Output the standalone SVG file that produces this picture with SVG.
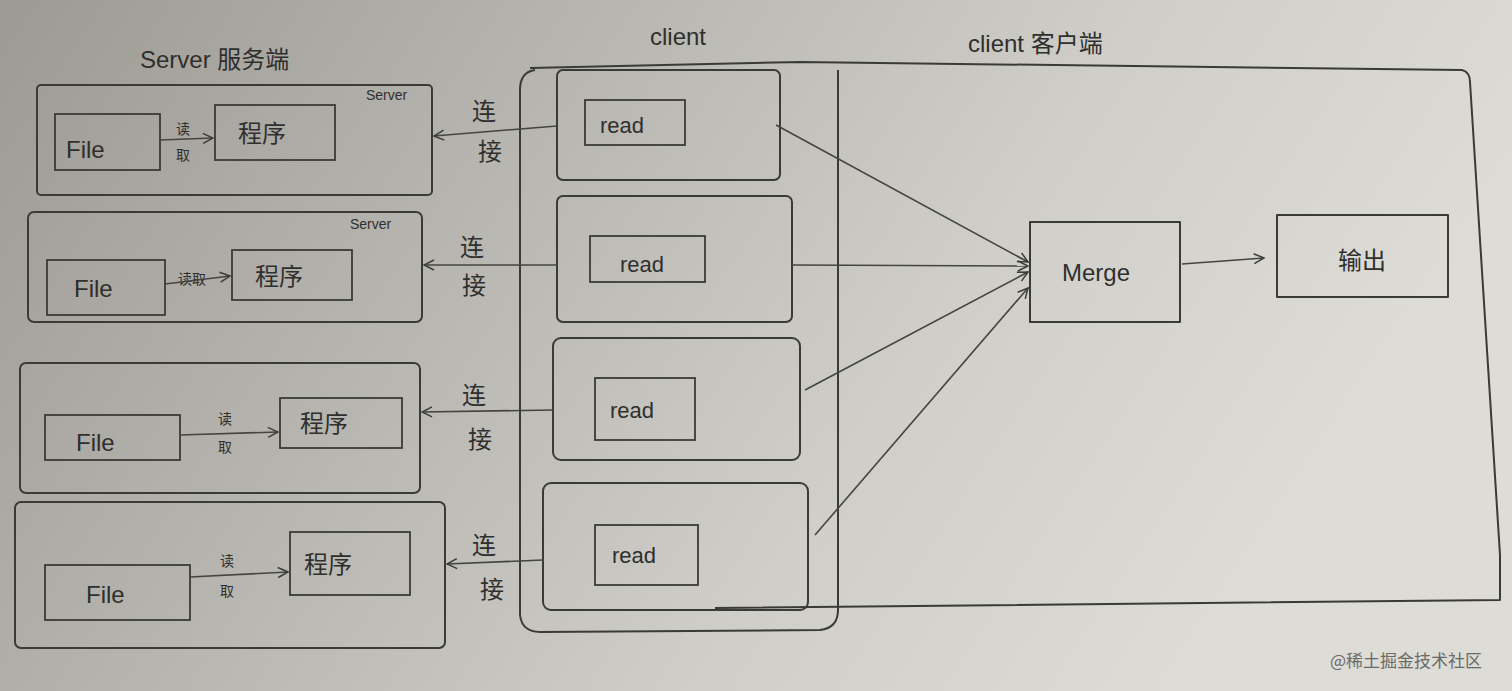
<svg xmlns="http://www.w3.org/2000/svg" width="1512" height="691" viewBox="0 0 1512 691">
<defs>
<linearGradient id="paper" x1="0" y1="0" x2="1" y2="0.3">
<stop offset="0" stop-color="#9d9a94"/>
<stop offset="0.35" stop-color="#b6b4ae"/>
<stop offset="0.7" stop-color="#cfcec9"/>
<stop offset="1" stop-color="#dddcd7"/>
</linearGradient>
<marker id="arr" viewBox="0 0 12 12" refX="11" refY="6" markerWidth="12" markerHeight="12" markerUnits="userSpaceOnUse" orient="auto">
<path d="M1,1 L11,6 L1,11" fill="none" stroke="#3c3c3a" stroke-width="1.5"/>
</marker>
</defs>
<style>
.box{fill:none;stroke:#3a3a38;stroke-width:2;stroke-linejoin:round}
.inner{fill:none;stroke:#3a3a38;stroke-width:1.8}
.ln{fill:none;stroke:#444442;stroke-width:1.6}
.t{font-family:"Liberation Sans","Noto Sans CJK SC",sans-serif;fill:#2f2f2d}
.h{font-size:24px}
.s{font-size:14px}
.m{font-size:22px}
.c{font-size:24px}
</style>
<rect width="1512" height="691" fill="url(#paper)"/>

<g id="titles">
<text class="t h" x="140" y="68">Server 服务端</text>
<text class="t h" x="650" y="45">client</text>
<text class="t h" x="968" y="52">client 客户端</text>
</g>

<g id="client-area">
<path class="box" d="M530,68 L800,62 L1462,70 Q1470,72 1470,82 L1500,555 L1500,600 L715,608"/>
<path class="box" d="M535,70 Q520,72 520,90 L520,615 Q522,632 540,632 L820,630 Q838,628 838,610 L838,70"/>
</g>

<g id="server1">
<rect class="box" x="37" y="85" width="395" height="110" rx="4"/>
<text class="t s" x="366" y="100">Server</text>
<rect class="inner" x="55" y="114" width="105" height="56"/>
<text class="t c" x="66" y="158">File</text>
<rect class="inner" x="215" y="105" width="120" height="55"/>
<text class="t c" x="238" y="142">程序</text>
<text class="t s" x="176" y="134">读</text>
<text class="t s" x="176" y="160">取</text>
</g>

<g id="server2">
<rect class="box" x="28" y="212" width="394" height="110" rx="6"/>
<text class="t s" x="350" y="229">Server</text>
<rect class="inner" x="47" y="260" width="118" height="55"/>
<text class="t c" x="74" y="297">File</text>
<rect class="inner" x="232" y="250" width="120" height="50"/>
<text class="t c" x="255" y="285">程序</text>
<text class="t s" x="178" y="284">读取</text>
</g>

<g id="server3">
<rect class="box" x="20" y="363" width="400" height="130" rx="6"/>
<rect class="inner" x="45" y="415" width="135" height="45"/>
<text class="t c" x="76" y="451">File</text>
<rect class="inner" x="280" y="398" width="122" height="50"/>
<text class="t c" x="300" y="432">程序</text>
<text class="t s" x="218" y="424">读</text>
<text class="t s" x="218" y="452">取</text>
</g>

<g id="server4">
<rect class="box" x="15" y="502" width="430" height="146" rx="6"/>
<rect class="inner" x="45" y="565" width="145" height="55"/>
<text class="t c" x="86" y="603">File</text>
<rect class="inner" x="290" y="532" width="120" height="63"/>
<text class="t c" x="304" y="573">程序</text>
<text class="t s" x="220" y="566">读</text>
<text class="t s" x="220" y="596">取</text>
</g>

<g id="client1">
<rect class="box" x="557" y="70" width="223" height="110" rx="6"/>
<rect class="inner" x="585" y="100" width="100" height="45"/>
<text class="t m" x="600" y="133">read</text>
</g>
<g id="client2">
<rect class="box" x="557" y="196" width="235" height="126" rx="6"/>
<rect class="inner" x="590" y="236" width="115" height="46"/>
<text class="t m" x="620" y="272">read</text>
</g>
<g id="client3">
<rect class="box" x="553" y="338" width="247" height="122" rx="8"/>
<rect class="inner" x="595" y="378" width="100" height="62"/>
<text class="t m" x="610" y="418">read</text>
</g>
<g id="client4">
<rect class="box" x="543" y="483" width="265" height="127" rx="8"/>
<rect class="inner" x="595" y="525" width="103" height="60"/>
<text class="t m" x="612" y="563">read</text>
</g>

<g id="merge">
<rect class="box" x="1030" y="222" width="150" height="100"/>
<text class="t h" x="1062" y="281">Merge</text>
</g>
<g id="output">
<rect class="box" x="1277" y="215" width="171" height="82"/>
<text class="t h" x="1338" y="269">输出</text>
</g>

<g id="connectors">
<line class="ln" x1="160" y1="140" x2="213" y2="138" marker-end="url(#arr)"/>
<line class="ln" x1="165" y1="284" x2="230" y2="276" marker-end="url(#arr)"/>
<line class="ln" x1="180" y1="435" x2="278" y2="432" marker-end="url(#arr)"/>
<line class="ln" x1="190" y1="577" x2="288" y2="572" marker-end="url(#arr)"/>

<line class="ln" x1="557" y1="126" x2="434" y2="136" marker-end="url(#arr)"/>
<line class="ln" x1="557" y1="265" x2="424" y2="265" marker-end="url(#arr)"/>
<line class="ln" x1="553" y1="410" x2="422" y2="412" marker-end="url(#arr)"/>
<line class="ln" x1="543" y1="560" x2="447" y2="564" marker-end="url(#arr)"/>
<text class="t h" x="472" y="120">连</text>
<text class="t h" x="478" y="160">接</text>
<text class="t h" x="460" y="256">连</text>
<text class="t h" x="462" y="294">接</text>
<text class="t h" x="462" y="404">连</text>
<text class="t h" x="468" y="448">接</text>
<text class="t h" x="472" y="554">连</text>
<text class="t h" x="480" y="598">接</text>

<line class="ln" x1="776" y1="125" x2="1028" y2="262" marker-end="url(#arr)"/>
<line class="ln" x1="792" y1="265" x2="1028" y2="266" marker-end="url(#arr)"/>
<line class="ln" x1="805" y1="390" x2="1028" y2="272" marker-end="url(#arr)"/>
<line class="ln" x1="815" y1="535" x2="1028" y2="288" marker-end="url(#arr)"/>
<line class="ln" x1="1182" y1="264" x2="1264" y2="258" marker-end="url(#arr)"/>
</g>

<text x="1330" y="667" font-family="Noto Sans CJK SC, sans-serif" font-size="17" fill="#6a6a68">@稀土掘金技术社区</text>
</svg>
